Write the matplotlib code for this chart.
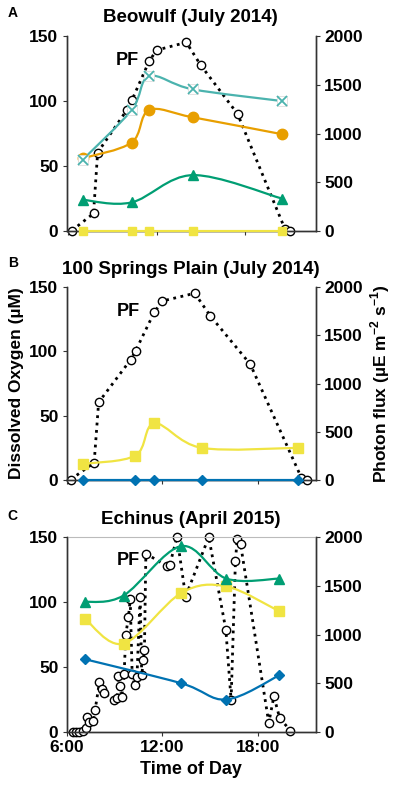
import numpy as np
import matplotlib
matplotlib.use("Agg")
import matplotlib.pyplot as plt
from matplotlib.path import Path
from matplotlib.patches import PathPatch

plt.rcParams['font.family'] = ['Liberation Sans', 'DejaVu Sans']
plt.rcParams['font.weight'] = 'bold'
plt.rcParams['axes.labelweight'] = 'bold'
plt.rcParams['mathtext.fontset'] = 'custom'
plt.rcParams['mathtext.rm'] = 'Liberation Sans:bold'
plt.rcParams['mathtext.bf'] = 'Liberation Sans:bold'

# sampling times (hours)
t_summer = [7.0, 10.3, 11.5, 14.45, 20.5]
t_green_a = [7.0, 10.3, 14.45, 20.5]
t_echinus = [7.15, 9.56, 13.18, 16.0, 19.3]
t_blue_c = [7.15, 13.18, 16.0, 19.3]

# Beowulf (A)
a_cyan = [55, 93, 119, 109, 100]
a_orange = [56, 68, 93, 87.5, 74.5]
a_green = [24, 22, 43, 25]
a_yellow = [0, 0, 0, 0, 0]

# 100 Springs Plain (B)
b_yellow = [12.5, 19, 44, 25, 25]
b_blue = [0, 0, 0, 0, 0]

# Echinus (C)
c_green = [100, 105, 143, 118, 118]
c_yellow = [87, 68, 107, 112, 93]
c_blue = [56, 37.5, 25, 43.5]

# photon flux
pf_summer_t = [6.25, 7.72, 8.0, 10.0, 10.32, 11.49, 12.0, 14.02, 15.0, 17.5, 20.7, 21.08]
pf_summer = [5, 180, 805, 1245, 1340, 1740, 1855, 1935, 1700, 1200, 25, 5]

pf_c_t = [6.38, 6.58, 6.79, 7.0, 7.21, 7.29, 7.42, 7.67, 7.78, 8.05, 8.2, 8.36,
          8.98, 9.15, 9.24, 9.31, 9.45, 9.6, 9.7, 9.87, 9.98, 10.1, 10.25, 10.4,
          10.6, 10.7, 10.8, 10.87, 10.96, 12.3, 12.45, 12.91, 13.45, 14.9, 15.97,
          16.3, 16.57, 16.68, 16.89, 18.66, 18.98, 19.35, 20.02]
pf_c = [0, 0, 0, 14, 41, 150, 99, 113, 226, 510, 445, 400,
        330, 345, 575, 475, 360, 600, 1000, 1180, 1360, 600, 480, 560,
        1390, 580, 740, 840, 1830, 1700, 1710, 2000, 1390, 2000, 1050,
        330, 1750, 1980, 1930, 95, 365, 140, 15]

col_cyan = '#4BB3AE'
col_orange = '#E89F00'
col_green = '#009E73'
col_yellow = '#F0E442'
col_blue = '#0072B2'


def smooth_line(ax, x, y, color, lw=1.6):
    # excel-style smoothed line through the points (bezier segments)
    x = np.asarray(x, float)
    y = np.asarray(y, float)
    px = np.concatenate([[x[0]], x, [x[-1]]])
    py = np.concatenate([[y[0]], y, [y[-1]]])
    verts = [(x[0], y[0])]
    codes = [Path.MOVETO]
    for i in range(1, len(px) - 2):
        c1 = (px[i] + (px[i + 1] - px[i - 1]) / 6, py[i] + (py[i + 1] - py[i - 1]) / 6)
        c2 = (px[i + 1] - (px[i + 2] - px[i]) / 6, py[i + 1] - (py[i + 2] - py[i]) / 6)
        verts += [c1, c2, (px[i + 1], py[i + 1])]
        codes += [Path.CURVE4] * 3
    patch = PathPatch(Path(verts, codes), facecolor='none', edgecolor=color,
                      lw=lw, clip_on=False, zorder=3)
    ax.add_patch(patch)


def series(ax, x, y, color, marker, ms):
    smooth_line(ax, x, y, color)
    if marker == 'x':
        ax.plot(x, y, 's', ms=ms, mfc='white', mec='#DDDDDD', mew=0.6, clip_on=False, zorder=4)
        ax.plot(x, y, 'x', ms=ms, mec=color, mew=1.3, clip_on=False, zorder=5)
    else:
        ax.plot(x, y, marker, ms=ms, color=color, clip_on=False, zorder=4)


def style_axes(ax, ax2, xlim, show_xlabels):
    ax.set_xlim(*xlim)
    ax.set_ylim(0, 150)
    ax.set_yticks([0, 50, 100, 150])
    ax2.set_ylim(0, 2000)
    ax2.set_yticks([0, 500, 1000, 1500, 2000])
    ax.set_xticks([6, 12, 18])
    if show_xlabels:
        ax.set_xticklabels(['6:00', '12:00', '18:00'])
    else:
        ax.set_xticklabels([])
    for a in (ax, ax2):
        a.spines['top'].set_visible(False)
        for s in ('left', 'right', 'bottom'):
            a.spines[s].set_color('#333333')
            a.spines[s].set_linewidth(1.0)
        a.tick_params(length=3, width=0.8, color='#333333', labelsize=12.5, pad=3)
        for lab in a.get_xticklabels() + a.get_yticklabels():
            lab.set_fontweight('bold')
    ax.set_zorder(ax2.get_zorder() + 1)
    ax.patch.set_visible(False)


fig = plt.figure(figsize=(3.97, 7.95), dpi=100)
left = 66.7 / 397
width = 249 / 397
ax_a = fig.add_axes([left, 0.7094, width, 0.2453])
ax_b = fig.add_axes([left, 0.3962, width, 0.2428])
ax_c = fig.add_axes([left, 0.0792, width, 0.2453])
ax_a2 = ax_a.twinx()
ax_b2 = ax_b.twinx()
ax_c2 = ax_c.twinx()

pf_kw = dict(ls=':', lw=2.0, color='black', marker='o', ms=6, mfc='white',
             mec='black', mew=1.0, clip_on=False, zorder=2)

# A - Beowulf
ax_a2.plot(pf_summer_t, pf_summer, **pf_kw)
series(ax_a, t_summer, a_yellow, col_yellow, 's', 6)
series(ax_a, t_green_a, a_green, col_green, '^', 7)
series(ax_a, t_summer, a_orange, col_orange, 'o', 7.5)
series(ax_a, t_summer, a_cyan, col_cyan, 'x', 6.5)
ax_a.text(10.0, 131.5, 'PF', fontsize=13, ha='center', va='center')
style_axes(ax_a, ax_a2, (5.9, 22.8), False)

# B - 100 Springs Plain
ax_b2.plot(pf_summer_t, pf_summer, **pf_kw)
series(ax_b, t_summer, b_blue, col_blue, 'D', 5)
series(ax_b, t_summer, b_yellow, col_yellow, 's', 7)
ax_b.text(9.86, 130.8, 'PF', fontsize=13, ha='center', va='center')
style_axes(ax_b, ax_b2, (6, 21.6), False)
ax_b.set_ylabel('Dissolved Oxygen (\u00b5M)', fontsize=12.5, fontweight='bold', labelpad=4)
ax_b2.set_ylabel('Photon flux (\u00b5E m$^{\\mathbf{-2}}$ s$^{\\mathbf{-1}}$)', fontsize=12.5,
                 fontweight='bold', labelpad=4)

# C - Echinus
ax_c2.plot(pf_c_t, pf_c, **pf_kw)
series(ax_c, t_blue_c, c_blue, col_blue, 'D', 5.5)
series(ax_c, t_echinus, c_yellow, col_yellow, 's', 7)
series(ax_c, t_echinus, c_green, col_green, '^', 7)
ax_c.text(9.87, 131.7, 'PF', fontsize=13, ha='center', va='center')
style_axes(ax_c, ax_c2, (6, 21.6), True)
ax_c2.spines['top'].set_visible(True)
ax_c2.spines['top'].set_color('#BBBBBB')
ax_c2.spines['top'].set_linewidth(0.8)
ax_c.set_xlabel('Time of Day', fontsize=13, fontweight='bold', labelpad=4)

# titles and panel letters
fig.text(0.48, 1 - 17 / 795, 'Beowulf (July 2014)', fontsize=13.5, ha='center', va='center')
fig.text(0.48, 1 - 270 / 795, '100 Springs Plain (July 2014)', fontsize=13.5, ha='center', va='center')
fig.text(0.48, 1 - 519 / 795, 'Echinus (April 2015)', fontsize=13.5, ha='center', va='center')
fig.text(12.7 / 397, 1 - 12.7 / 795, 'A', fontsize=10, ha='center', va='center')
fig.text(12.7 / 397, 1 - 263 / 795, 'B', fontsize=10, ha='center', va='center')
fig.text(12.7 / 397, 1 - 516 / 795, 'C', fontsize=10, ha='center', va='center')

fig.savefig('out.png', dpi=100)
